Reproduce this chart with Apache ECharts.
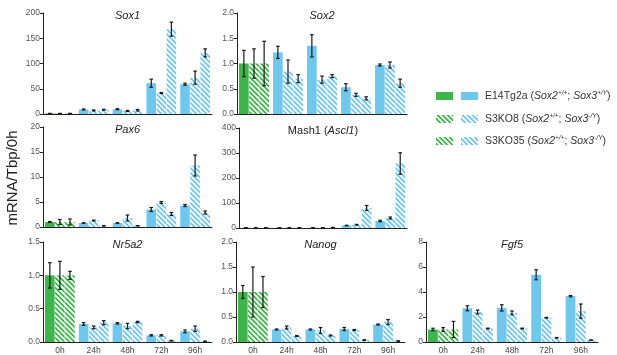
<!DOCTYPE html>
<html><head><meta charset="utf-8">
<script src="https://cdn.jsdelivr.net/npm/echarts@6/dist/echarts.min.js"></script>
<style>html,body{margin:0;padding:0;background:#fff}#c{width:617px;height:355px}</style>
</head><body><div id="c"></div>
<script>
// ---- data ----
const categories = ['0h', '24h', '48h', '72h', '96h'];
const lineNames = ['E14Tg2a', 'S3KO8', 'S3KO35'];

const sox1Mean = [[1, 9, 9.5, 61, 59], [1, 7, 6, 41.5, 72], [1, 8.5, 7.5, 168, 121]];
const sox1Err  = [[0.3, 1, 1, 8, 2], [0.3, 1, 1, 1, 13], [0.3, 0.8, 1.5, 14, 8]];

const sox2Mean = [[1.0, 1.22, 1.35, 0.53, 0.97], [1.0, 0.84, 0.68, 0.38, 0.97], [1.0, 0.70, 0.75, 0.31, 0.61]];
const sox2Err  = [[0.26, 0.12, 0.22, 0.07, 0.02], [0.29, 0.23, 0.07, 0.03, 0.06], [0.44, 0.08, 0.03, 0.03, 0.08]];

const pax6Mean = [[1.0, 0.8, 0.8, 3.5, 4.3], [1.0, 1.3, 1.8, 4.9, 12.3], [1.0, 0.25, 0.25, 2.6, 2.9]];
const pax6Err  = [[0.1, 0.05, 0.05, 0.4, 0.2], [0.5, 0.08, 0.6, 0.2, 2.1], [0.6, 0.03, 0.03, 0.3, 0.3]];

const mash1Mean = [[1, 1, 1, 10, 28], [1, 1, 1, 13, 40], [1, 1, 2, 80, 258]];
const mash1Err  = [[0.2, 0.3, 0.3, 1, 3], [0.2, 0.3, 0.3, 1.5, 4], [0.2, 0.5, 0.5, 10, 43]];

const nr5a2Mean = [[1.0, 0.27, 0.28, 0.10, 0.16], [1.0, 0.22, 0.24, 0.10, 0.20], [1.0, 0.29, 0.30, 0.02, 0.01]];
const nr5a2Err  = [[0.19, 0.02, 0.01, 0.01, 0.02], [0.21, 0.02, 0.04, 0.01, 0.04], [0.06, 0.03, 0.01, 0.005, 0.003]];

const nanogMean = [[1.0, 0.25, 0.25, 0.26, 0.35], [1.0, 0.29, 0.23, 0.24, 0.40], [1.0, 0.12, 0.13, 0.04, 0.02]];
const nanogErr  = [[0.13, 0.01, 0.01, 0.03, 0.01], [0.50, 0.03, 0.06, 0.01, 0.05], [0.31, 0.01, 0.01, 0.005, 0.003]];

const fgf5Mean = [[1.0, 2.7, 2.73, 5.38, 3.67], [1.0, 2.4, 2.33, 1.94, 2.47], [1.0, 1.08, 1.08, 0.34, 0.15]];
const fgf5Err  = [[0.1, 0.2, 0.25, 0.4, 0.05], [0.15, 0.15, 0.15, 0.03, 0.57], [0.65, 0.03, 0.03, 0.02, 0.01]];

// ---- layout / styles ----
const FONT = '"Liberation Sans", Arial, Helvetica, sans-serif';
const GREEN = '#3db54a', BLUE = '#6fc7ee';
const CAT_GAP = 0.12, BAR_GAP = 0.05;

function stripe(color) {
  const s = 5, c = document.createElement('canvas');
  c.width = s; c.height = s;
  const g = c.getContext('2d');
  g.fillStyle = color; g.fillRect(0, 0, s, s);
  g.strokeStyle = '#ffffff'; g.lineWidth = 1.7;
  g.beginPath();
  for (let o = -s; o <= s; o += s) { g.moveTo(o - 1, -1); g.lineTo(o + s + 1, s + 1); }
  g.stroke();
  return c;
}
const fills = {
  green: [GREEN, { image: stripe(GREEN), repeat: 'repeat' }, { image: stripe(GREEN), repeat: 'repeat' }],
  blue: [BLUE, { image: stripe(BLUE), repeat: 'repeat' }, { image: stripe(BLUE), repeat: 'repeat' }]
};

const panels = [
  { title: '{i|Sox1}', mean: sox1Mean, err: sox1Err, max: 200, interval: 50, dec: 0, grid: { left: 43, top: 13, width: 169, height: 101 }, xl: false },
  { title: '{i|Sox2}', mean: sox2Mean, err: sox2Err, max: 2, interval: 0.5, dec: 1, grid: { left: 237, top: 13, width: 170, height: 101 }, xl: false },
  { title: '{i|Pax6}', mean: pax6Mean, err: pax6Err, max: 20, interval: 5, dec: 0, grid: { left: 43, top: 127, width: 169, height: 100 }, xl: false },
  { title: '{n|Mash1 (}{i|Ascl1}{n|)}', mean: mash1Mean, err: mash1Err, max: 400, interval: 100, dec: 0, grid: { left: 239, top: 128, width: 168, height: 100 }, xl: false },
  { title: '{i|Nr5a2}', mean: nr5a2Mean, err: nr5a2Err, max: 1.5, interval: 0.5, dec: 1, grid: { left: 43, top: 242, width: 169, height: 101 }, xl: true },
  { title: '{i|Nanog}', mean: nanogMean, err: nanogErr, max: 2, interval: 0.5, dec: 1, grid: { left: 236, top: 242, width: 169, height: 101 }, xl: true },
  { title: '{i|Fgf5}', mean: fgf5Mean, err: fgf5Err, max: 8, interval: 2, dec: 0, grid: { left: 426, top: 242, width: 172, height: 101 }, xl: true }
];

const grids = [], xAxes = [], yAxes = [], series = [], graphics = [];
const axisCol = '#222';
panels.forEach((p, gi) => {
  grids.push(Object.assign({ containLabel: false }, p.grid));
  xAxes.push({
    type: 'category', gridIndex: gi, data: categories,
    axisLine: { lineStyle: { color: axisCol, width: 1 } },
    axisTick: { alignWithLabel: true, interval: 0, length: 3, lineStyle: { color: axisCol } },
    axisLabel: { show: p.xl, fontSize: 8.5, color: '#444', margin: 4, fontFamily: FONT, interval: 0 }
  });
  yAxes.push({
    type: 'value', gridIndex: gi, min: 0, max: p.max, interval: p.interval,
    axisLine: { show: true, lineStyle: { color: axisCol, width: 1 } },
    axisTick: { show: true, length: 3, lineStyle: { color: axisCol } },
    splitLine: { show: false },
    axisLabel: { fontSize: 8.5, color: '#555', margin: 3, fontFamily: FONT, formatter: v => v.toFixed(p.dec) }
  });
  for (let k = 0; k < 3; k++) {
    series.push({
      type: 'bar', name: lineNames[k], xAxisIndex: gi, yAxisIndex: gi,
      barCategoryGap: (CAT_GAP * 100) + '%', barGap: (BAR_GAP * 100) + '%',
      silent: true,
      data: p.mean[k].map((v, j) => ({ value: v, itemStyle: { color: fills[j === 0 ? 'green' : 'blue'][k] } }))
    });
  }
  for (let k = 0; k < 3; k++) {
    series.push({
      type: 'custom', xAxisIndex: gi, yAxisIndex: gi, z: 5, silent: true,
      encode: { x: 0, y: 1 },
      data: p.mean[k].map((v, j) => [j, v, p.err[k][j]]),
      renderItem: (params, api) => {
        const j = api.value(0), v = api.value(1), e = api.value(2);
        const band = api.size([1, 0])[0];
        const avail = band * (1 - CAT_GAP);
        const bw = avail / (3 + 2 * BAR_GAP);
        const cx = api.coord([j, v])[0] - avail / 2 + bw / 2 + k * bw * (1 + BAR_GAP);
        const yt = api.coord([j, v + e])[1], yb = api.coord([j, Math.max(v - e, 0)])[1];
        const cap = 1.8, st = { stroke: '#1a1a1a', lineWidth: 1.2 };
        return { type: 'group', children: [
          { type: 'line', shape: { x1: cx, y1: yt, x2: cx, y2: yb }, style: st },
          { type: 'line', shape: { x1: cx - cap, y1: yt, x2: cx + cap, y2: yt }, style: st },
          { type: 'line', shape: { x1: cx - cap, y1: yb, x2: cx + cap, y2: yb }, style: st }
        ] };
      }
    });
  }
  graphics.push({
    type: 'text', x: p.grid.left + p.grid.width / 2, y: p.grid.top + 3,
    style: {
      text: p.title, align: 'center', verticalAlign: 'middle',
      rich: {
        i: { fontSize: 11, fontStyle: 'italic', fontFamily: FONT, fill: '#222' },
        n: { fontSize: 11, fontFamily: FONT, fill: '#222' }
      }
    }
  });
});

// y-axis name
graphics.push({
  type: 'text', x: 13, y: 178, rotation: Math.PI / 2,
  style: { text: 'mRNA/Tbp/0h', align: 'center', verticalAlign: 'middle', fontSize: 15, fontFamily: FONT, fill: '#222' }
});

// legend
const legendRows = [
  { y: 96, t: '{n|E14Tg2a (}{i|Sox2}{s|+/+}{n|; }{i|Sox3}{s|+/Y}{n|)}' },
  { y: 119, t: '{n|S3KO8 (}{i|Sox2}{s|+/+}{n|; }{i|Sox3}{s|-/Y}{n|)}' },
  { y: 141, t: '{n|S3KO35 (}{i|Sox2}{s|+/+}{n|; }{i|Sox3}{s|-/Y}{n|)}' }
];
legendRows.forEach((r, k) => {
  graphics.push({ type: 'rect', shape: { x: 436, y: r.y - 4, width: 17, height: 8 }, style: { fill: fills.green[k] } });
  graphics.push({ type: 'rect', shape: { x: 461, y: r.y - 4, width: 17, height: 8 }, style: { fill: fills.blue[k] } });
  graphics.push({
    type: 'text', x: 485, y: r.y,
    style: {
      text: r.t, align: 'left', verticalAlign: 'middle',
      rich: {
        n: { fontSize: 10.5, fontFamily: FONT, fill: '#333', lineHeight: 12 },
        i: { fontSize: 10.5, fontStyle: 'italic', fontFamily: FONT, fill: '#333', lineHeight: 12 },
        s: { fontSize: 6.5, fontStyle: 'italic', fontFamily: FONT, fill: '#333', verticalAlign: 'top', lineHeight: 12 }
      }
    }
  });
});

const chart = echarts.init(document.getElementById('c'), null, { renderer: 'canvas' });
chart.setOption({
  animation: false,
  backgroundColor: '#fff',
  grid: grids, xAxis: xAxes, yAxis: yAxes, series: series,
  graphic: graphics
});
</script>
</body></html>
